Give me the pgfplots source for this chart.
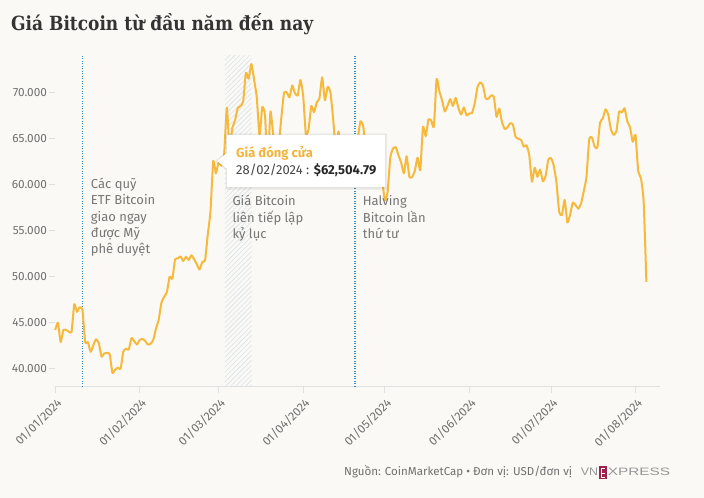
\documentclass[border=0pt]{standalone}
\usepackage{pgfplots}
\pgfplotsset{compat=1.18}
\usepackage{fontspec}
\usepackage{graphicx}
\usetikzlibrary{patterns.meta}
\setmainfont{Fira Sans}
\newfontfamily\titlefont{DejaVu Serif}
\newfontfamily\logofont{Liberation Sans}
\definecolor{bgc}{RGB}{250,249,246}
\definecolor{linec}{RGB}{246,185,59}
\definecolor{annc}{RGB}{118,118,118}
\definecolor{tickc}{RGB}{112,112,112}
\definecolor{axc}{RGB}{222,224,226}
\definecolor{etfc}{RGB}{52,140,196}
\definecolor{hatchc}{RGB}{218,226,234}
\definecolor{titlec}{RGB}{51,51,51}
\definecolor{ttc}{RGB}{244,180,60}
\definecolor{logoc}{RGB}{150,150,150}
\definecolor{logor}{RGB}{158,34,78}
\begin{document}
\begin{tikzpicture}
\path[use as bounding box, fill=bgc] (0,0) rectangle (704bp,498bp);
\begin{axis}[
  at={(55.2bp,111.3bp)}, anchor=south west,
  scale only axis, width=604.8bp, height=331.2bp,
  xmin=0, xmax=222, ymin=38000, ymax=74000,
  axis x line*=bottom, axis y line*=left,
  x axis line style={-, draw=axc, line width=0.8bp},
  y axis line style={draw=none},
  tick style={draw=axc, line width=0.8bp},
  major tick length=6bp, tick align=outside,
  xtick={0,31,60,91,121,152,182,213},
  xticklabels={01/01/2024,01/02/2024,01/03/2024,01/04/2024,01/05/2024,01/06/2024,01/07/2024,01/08/2024},
  ytick={40000,45000,50000,55000,60000,65000,70000},
  scaled y ticks=false,
  /pgf/number format/1000 sep={.},
  /pgf/number format/assume math mode=true,
  xticklabel style={xshift=5.5bp, yshift=-7bp, rotate=45, anchor=east, inner sep=1.5bp, text=tickc, font=\fontsize{12bp}{14bp}\selectfont},
  yticklabel style={text=tickc, font=\fontsize{11.8bp}{13bp}\selectfont, inner sep=2bp},
  clip=false,
]
\fill[pattern={Lines[angle=45, distance=3.5bp, line width=0.6bp]}, pattern color=hatchc] (axis cs:62.3,38000) rectangle (axis cs:72.1,74000);
\draw[etfc, line width=1.3bp, dash pattern=on 1.2bp off 1.3bp] (axis cs:10,38000) -- (axis cs:10,74000);
\draw[etfc, line width=1.3bp, dash pattern=on 1.2bp off 1.3bp] (axis cs:110,38000) -- (axis cs:110,74000);
\addplot[linec, line width=2bp, smooth, tension=0.3, no marks, line join=round] coordinates {
(0,44167) (1,44958) (2,42849) (3,44179) (4,44163) (5,43989) (6,43943) (7,46970) (8,46139) (9,46628)
(10,46368) (11,42853) (12,42842) (13,41796) (14,42511) (15,43154) (16,42742) (17,41262) (18,41618) (19,41665)
(20,41545) (21,39507) (22,39845) (23,40077) (24,39934) (25,41816) (26,42120) (27,42035) (28,43288) (29,42952)
(30,42582) (31,43075) (32,43185) (33,42992) (34,42583) (35,42658) (36,43084) (37,44318) (38,45301) (39,47147)
(40,47771) (41,48293) (42,49958) (43,49742) (44,51826) (45,51938) (46,52160) (47,51663) (48,52122) (49,51779)
(50,52284) (51,51839) (52,51305) (53,50731) (54,51571) (55,51733) (56,54522) (57,57085) (58,62504.79) (59,61198)
(60,62440) (61,62029) (62,63167) (63,68330) (64,63801) (65,66106) (66,66925) (67,68300) (68,68498) (69,69019)
(70,72123) (71,71481) (72,73083) (73,71396) (74,69403) (75,65315) (76,68390) (77,67548) (78,61912) (79,67913)
(80,65491) (81,63778) (82,64062) (83,67234) (84,69958) (85,69987) (86,69455) (87,70744) (88,69892) (89,69645)
(90,71333) (91,69702) (92,65446) (93,65980) (94,68508) (95,67837) (96,68897) (97,69362) (98,71632) (99,69139)
(100,70587) (101,70060) (102,67195) (103,63821) (104,65738) (105,63426) (106,63811) (107,61276) (108,63512) (109,63843)
(110,64994) (111,64927) (112,66837) (113,66407) (114,64276) (115,64481) (116,63755) (117,63419) (118,63113) (119,63841)
(120,60636) (121,58254) (122,59123) (123,62889) (124,63891) (125,64031) (126,63161) (127,62334) (128,61187) (129,63049)
(130,60792) (131,60793) (132,61448) (133,62901) (134,61552) (135,66267) (136,65231) (137,67051) (138,66940) (139,66278)
(140,71448) (141,70136) (142,69122) (143,67929) (144,68526) (145,69265) (146,68518) (147,69394) (148,68296) (149,67578)
(150,68364) (151,67491) (152,67706) (153,67751) (154,68804) (155,70567) (156,71082) (157,70757) (158,69342) (159,69305)
(160,69648) (161,69513) (162,67332) (163,68242) (164,66757) (165,66012) (166,66191) (167,66639) (168,66490) (169,65140)
(170,64961) (171,64828) (172,64096) (173,64252) (174,63180) (175,60277) (176,61804) (177,60811) (178,61604) (179,60320)
(180,60887) (181,62678) (182,62851) (183,62029) (184,60173) (185,56977) (186,56662) (187,58303) (188,55849) (189,56705)
(190,58009) (191,57742) (192,57344) (193,57899) (194,59231) (195,60787) (196,64870) (197,65097) (198,64118) (199,63974)
(200,66710) (201,67163) (202,68154) (203,67585) (204,65927) (205,65372) (206,65777) (207,67912) (208,67813) (209,68255)
(210,66819) (211,66201) (212,64619) (213,65357) (214,61415) (215,60680) (216,58116) (217,49400)
};
\end{axis}
\begin{scope}[shift={(0,498bp)}, x=1bp, y=-1bp]
% title
\node[anchor=base west, inner sep=0, text=titlec] at (11,30.7) {\resizebox{302bp}{\height}{\titlefont\bfseries\fontsize{19.5bp}{22bp}\selectfont Giá Bitcoin từ đầu năm đến nay}};
% annotations
\begin{scope}[every node/.style={anchor=base west, inner sep=0, text=annc, font=\fontsize{13bp}{16bp}\selectfont}]
\node at (90.7,188.3) {Các quỹ};
\node at (90.7,204.8) {ETF Bitcoin};
\node at (90.7,221.2) {giao ngay};
\node at (90.7,237.6) {được Mỹ};
\node at (90.7,254) {phê duyệt};
\node at (232.3,205.7) {Giá Bitcoin};
\node at (232.3,222.1) {liên tiếp lập};
\node at (232.3,238.5) {kỷ lục};
\node at (362.7,205.7) {Halving};
\node at (362.7,222.1) {Bitcoin lần};
\node at (362.7,238.5) {thứ tư};
\end{scope}
% tooltip
\fill[black, opacity=0.05] (225.5,133.5) -- (387,133.5) -- (387,190) -- (225.5,190) -- (225.5,170) -- (215,161) -- (225.5,152) -- cycle;
\fill[black, opacity=0.04] (226.5,134.5) -- (386,134.5) -- (386,188.5) -- (226.5,188.5) -- (226.5,169.5) -- (216,161) -- (226.5,152.5) -- cycle;
\fill[white] (227,135) -- (385,135) -- (385,187) -- (227,187) -- (227,169) -- (217,161) -- (227,153) -- cycle;
\node[anchor=base west, inner sep=0, text=ttc, font=\bfseries\fontsize{13bp}{15bp}\selectfont] at (236,157.3) {Giá đóng cửa};
\node[anchor=base west, inner sep=0, font=\fontsize{13bp}{15bp}\selectfont] at (236,175) {\textcolor[RGB]{70,70,70}{28/02/2024 :} \textcolor[RGB]{40,40,40}{\bfseries \$62,504.79}};
% footer
\node[anchor=base west, inner sep=0, text=tickc] at (344,475.7) {\resizebox{228bp}{!}{\fontsize{11.5bp}{13bp}\selectfont Nguồn: CoinMarketCap • Đơn vị: USD/đơn vị}};
% logo
\node[anchor=base west, inner sep=0, text=logoc] at (580.7,476) {\resizebox{17.3bp}{7.5bp}{\logofont VN}};
\fill[logor] (599.3,466.5) rectangle (606.7,479.5);
\draw[white, line width=0.7bp] (605.2,468.6) -- (601,468.6) -- (601,477.4) -- (605.2,477.4);
\draw[white, line width=0.7bp] (601,473) -- (604.6,473);
\node[anchor=base west, inner sep=0, text=logoc] at (607.7,476) {\resizebox{62.3bp}{7.5bp}{\logofont XPRESS}};
\end{scope}
\end{tikzpicture}
\end{document}
